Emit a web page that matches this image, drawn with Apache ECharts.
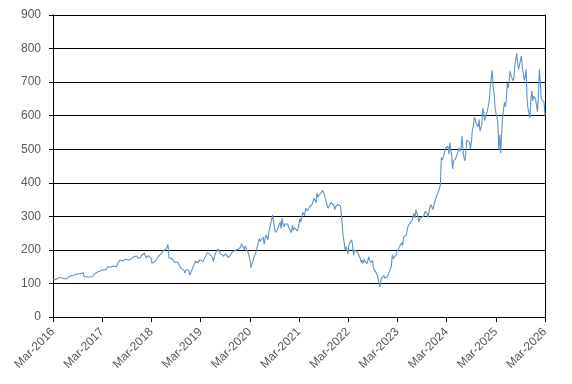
<!DOCTYPE html>
<html>
<head>
<meta charset="utf-8">
<script src="https://cdn.jsdelivr.net/npm/echarts@6/dist/echarts.min.js"></script>
<style>html,body{margin:0;padding:0;background:#fff}#c{width:572px;height:384px}</style>
</head>
<body>
<div id="c"></div>
<script>
// x-axis tick labels (one per year, every 12 months from Mar-2016)
const tickLabels = ["Mar-2016","Mar-2017","Mar-2018","Mar-2019","Mar-2020","Mar-2021","Mar-2022","Mar-2023","Mar-2024","Mar-2025","Mar-2026"];
// weekly closing prices, Mar-2016 .. Mar-2026
const y2016 = [111,112,113, 112,110,109,117, 118,119,117,119, 118,114,115,113,114, 117,120,121,124, 124,125,124,125, 127,128,129,128, 128,129,131,130,132, 120,119,118,120, 117,116,119,117,116];
const y2017 = [120,122,128,131, 132,134,133,135, 137,139,140,141,142, 141,140,143,150, 151,150,148,151, 152,152,153,151,150, 153,160,164,170, 170,170,167,166,171, 172,173,170,170,171, 172,173,174,178, 180,178,179,182, 176,180,178,177];
const y2018 = [184,179,186,190, 186,176,177,183, 183,185,176,160,155, 157,165,166,173, 177,181,183,185, 189,192,197,201,195, 203,207,216,176, 177,180,174,175,176, 163,162,162,164, 159,154,154,145, 150,144,139,131,140, 137,141,140,125,131];
const y2019 = [138,145,150,147,166, 167,165,162,161, 171,175,166,165,167, 176,175,179,192, 195,188,185,185,178, 166,175,189,192, 196,203,198,199, 188,183,183,181,186, 188,187,188,178, 180,184,186,193, 190,193,198,201, 200,201,206,205];
const y2020 = [208,218,222,217,201, 212,214,210,192, 181,170,147,156, 154,176,179,190, 202,212,210,234,225, 231,229,238,216, 233,245,242,230,253, 265,261,267,304, 282,266,252,254, 260,264,265,284,263, 294,276,269,277, 279,274,277,268,273];
const y2021 = [267,251,274,258, 266,269,261,257, 264,268,293,283, 298,312,307,302,325, 320,316,316,328, 330,331,336,341, 354,350,341,369,356, 363,362,359,372, 378,381,364,352, 343,330,324,325,323, 341,340,345,333, 320,329,334,335,336];
const y2022 = [331,331,303,301, 237,220,200,210, 200,188,216,222, 224,230,210,184,200, 203,197,193,195, 190,175,163,170, 160,171,167,169,159, 167,180,168,162, 160,169,146,147,136, 133,126,130,99, 90,113,112,111, 123,116,120,118,120];
const y2023 = [130,136,139,151, 186,174,171,171, 185,195,195,206,212, 216,221,213,238, 233,235,245,263, 272,268,281,286,287, 291,309,295,320, 310,301,284,286, 296,297,300,300,300, 315,314,309,297, 314,329,335,338, 320,333,335,353,354];
const y2024 = [351,374,383,394, 475,468,473,484, 502,505,497,509,485, 520,523,481,441, 465,468,471,466,467, 495,504,494,504, 539,498,476,465, 488,527,528,528,521, 500,524,560,567, 595,589,576,573, 567,589,554,559,574, 623,620,585,599];
const y2025 = [604,615,612,648,689, 714,736,683,668, 625,607,596,576, 500,543,488,547, 597,592,640,627,647, 697,682,682,733, 719,717,704,712, 750,769,786,754,738, 752,755,778,743, 727,705,716,738,648, 621,609,594,647, 673,644,658,663];
const y2026 = [650,653,612,658,738, 700,650,655,648, 640,600];

const values = [].concat(y2016,y2017,y2018,y2019,y2020,y2021,y2022,y2023,y2024,y2025,y2026);
const spanMonths = 120;
const data = values.map((v,i)=>[i*spanMonths/(values.length-1), v]);

const chart = echarts.init(document.getElementById('c'), null, {renderer:'canvas'});
const labelColor = '#595959';
const font = 'Liberation Sans';
chart.setOption({
  animation:false,
  backgroundColor:'#fff',
  grid:{left:53,right:27,top:15,bottom:67,containLabel:false},
  xAxis:{
    type:'value', min:0, max:120, interval:12,
    axisLine:{show:true,lineStyle:{color:'#000',width:1}},
    axisTick:{show:true,length:5,lineStyle:{color:'#000'}},
    splitLine:{show:false},
    axisLabel:{rotate:45,margin:13,color:labelColor,fontFamily:font,fontSize:12,
      formatter:(v)=>tickLabels[Math.round(v/12)]}
  },
  yAxis:[{
    type:'value', min:0, max:900, interval:100,
    axisLine:{show:true,lineStyle:{color:'#000',width:1}},
    axisTick:{show:true,length:4,inside:false,lineStyle:{color:'#000'}},
    splitLine:{show:true,lineStyle:{color:'#000',width:1}},
    axisLabel:{margin:12,color:labelColor,fontFamily:font,fontSize:12}
  },{
    type:'value', min:0, max:900, interval:100, position:'right',
    axisLine:{show:true,lineStyle:{color:'#000',width:1}},
    axisTick:{show:false}, axisLabel:{show:false}, splitLine:{show:false}
  }],
  series:[{
    type:'line', data:data, showSymbol:false, symbol:'none',
    lineStyle:{color:'#5f93c6',width:1.1}, smooth:false
  }]
});
</script>
</body>
</html>
